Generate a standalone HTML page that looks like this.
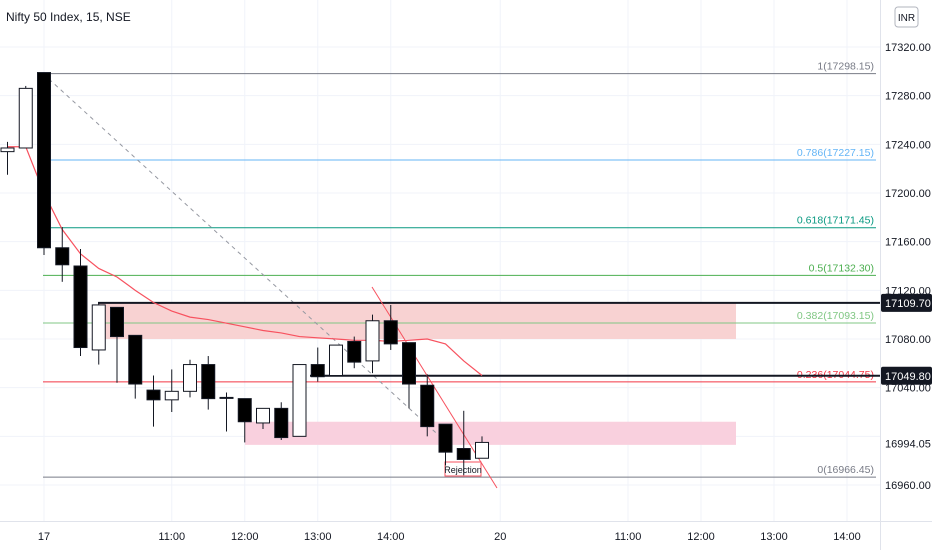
<!DOCTYPE html>
<html><head><meta charset="utf-8"><style>
body{margin:0;background:#fff;font-family:"Liberation Sans",sans-serif}
svg{display:block}
</style></head><body>
<svg id="c" width="932" height="550" font-family="Liberation Sans, sans-serif">
<rect width="932" height="550" fill="#fff"/>
<g id="grid"></g>
<g id="draw"></g>
<g id="candles"></g>
<g id="axis"></g>
<text x="6" y="21" font-size="12" fill="#131722">Nifty 50 Index, 15, NSE</text>
<rect x="895" y="7" width="23" height="20" rx="3" fill="#fff" stroke="#b2b5be"/>
<text x="906.5" y="21" font-size="10" text-anchor="middle" fill="#131722">INR</text>
</svg>
<script>
const NS='http://www.w3.org/2000/svg';
const opens=[17234,17237,17299,17155,17140,17071,17106,17083,17038,17030,17037,17059,17032,17031,17011,17023,17000,17059,17050,17078,17062,17095,17077,17042,17010,16990,16982];
const highs=[17242,17288,17299,17172,17154,17110,17106,17083,17050,17055,17063,17066,17036,17031,17023,17028,17059,17073,17075,17082,17100,17108,17077,17051,17010,17021,17000];
const lows=[17215,17237,17149,17127,17066,17059,17044,17031,17008,17020,17032,17022,17004,16995,17006,16997,17000,17045,17050,17056,17052,17071,17023,17000,16976,16968,16982];
const closes=[17237,17286,17155,17141,17073,17108,17082,17043,17030,17037,17059,17031,17032,17012,17023,16999,17059,17049,17075,17061,17095,17076,17043,17008,16987,16981,16995];
const ema=[17238,17238,17200,17170,17150,17138,17131,17120,17110,17103,17098,17096,17093,17090,17087,17085,17082,17081,17080,17079,17079,17078,17079,17080,17076,17062,17050];
const fibLevels=[1,0.786,0.618,0.5,0.382,0.236,0];
const fibPrices=[17298.15,17227.15,17171.45,17132.30,17093.15,17044.75,16966.45];
const fibColors=['#787b86','#64b5f6','#089981','#4caf50','#81c784','#f23645','#787b86'];
const priceTicks=[17320,17280,17240,17200,17160,17120,17080,17040,17000,16960];
const timeLabels=['17','11:00','12:00','13:00','14:00','20','11:00','12:00','13:00','14:00'];
const timeSlots=[2,9,13,17,21,27,34,38,42,46];
function y(p){return 47+(17320-p)*1.2167;}
function x(i){return 7.5+i*18.25;}
function mk(t,a,parent){const e=document.createElementNS(NS,t);for(const k in a)e.setAttribute(k,a[k]);parent.appendChild(e);return e;}
const grid=document.getElementById('grid'),draw=document.getElementById('draw'),cg=document.getElementById('candles'),ax=document.getElementById('axis');
priceTicks.forEach(p=>{const l=mk('line',{x1:0,x2:880,y1:y(p),y2:y(p),stroke:'#f0f3fa'},grid);

});
timeSlots.forEach(s=>{const l=mk('line',{x1:x(s),x2:x(s),y1:0,y2:521,stroke:'#f0f3fa'},grid);

});
let z=mk('rect',{x:98,y:y(17109.7),width:638,height:y(17080)-y(17109.7),fill:'#f8d2d2'},draw);


z=mk('rect',{x:245,y:y(17012),width:491,height:y(16993)-y(17012),fill:'#f9d0de'},draw);


fibPrices.forEach((p,i)=>{const l=mk('line',{x1:43,x2:876,y1:y(p),y2:y(p),stroke:fibColors[i],'stroke-width':1},draw);


const t=mk('text',{x:874,y:y(p)-4,'font-size':10.5,'text-anchor':'end',fill:fibColors[i]},draw);
t.textContent=fibLevels[i]+'('+p.toFixed(2)+')';

});
let d=mk('line',{x1:43,y1:y(17298.15),x2:444,y2:y(16966.45)-37,stroke:'#9598a1','stroke-dasharray':'4,4'},draw);


let r=mk('line',{x1:98,x2:880,y1:y(17109.7),y2:y(17109.7),stroke:'#131722','stroke-width':2},draw);


r=mk('line',{x1:310,x2:880,y1:y(17049.8),y2:y(17049.8),stroke:'#131722','stroke-width':2},draw);


let pts=ema.map((v,i)=>x(i)+','+y(v)).join(' ');
let e=mk('polyline',{points:pts,fill:'none',stroke:'#f7525f','stroke-width':1.2},draw);


let tl=mk('line',{x1:372,y1:287,x2:497,y2:488,stroke:'#f7525f','stroke-width':1},draw);


opens.forEach((o,i)=>{const c=closes[i],cx=x(i),up=c>=o;
const w=mk('line',{x1:cx,x2:cx,y1:y(highs[i]),y2:y(lows[i]),stroke:'#131722'},cg);


const top=y(Math.max(o,c)),h=Math.max(1,Math.abs(y(o)-y(c)));
const b=mk('rect',{x:cx-6.5,y:top,width:13,height:h,fill:up?'#fff':'#000',stroke:'#131722'},cg);

});
let rb=mk('rect',{x:445,y:462,width:36,height:14,fill:'#fff',stroke:'#f7525f'},draw);


let rt=mk('text',{x:463,y:473,'font-size':9,'text-anchor':'middle',fill:'#131722'},draw);
rt.textContent='Rejection';


let al=mk('line',{x1:880.5,x2:880.5,y1:0,y2:550,stroke:'#e0e3eb'},ax);


al=mk('line',{x1:0,x2:932,y1:521.5,y2:521.5,stroke:'#e0e3eb'},ax);


priceTicks.forEach(p=>{if(p===17000)return;const t=mk('text',{x:885,y:y(p)+4,'font-size':11,fill:'#131722'},ax);
t.textContent=p.toFixed(2);

});
timeLabels.forEach((s,i)=>{const t=mk('text',{x:x(timeSlots[i]),y:540,'font-size':11,'text-anchor':'middle',fill:'#131722'},ax);
t.textContent=s;

});
[[17109.7,'#131722','17109.70','#fff'],[17049.8,'#131722','17049.80','#fff'],[16994.05,'#fff','16994.05','#131722']].forEach(a=>{
const rr=mk('rect',{x:881,y:y(a[0])-9,width:51,height:18,fill:a[1],rx:2},ax);


const t=mk('text',{x:885,y:y(a[0])+4,'font-size':11,fill:a[3]},ax);
t.textContent=a[2];

});
</script>
</body></html>
